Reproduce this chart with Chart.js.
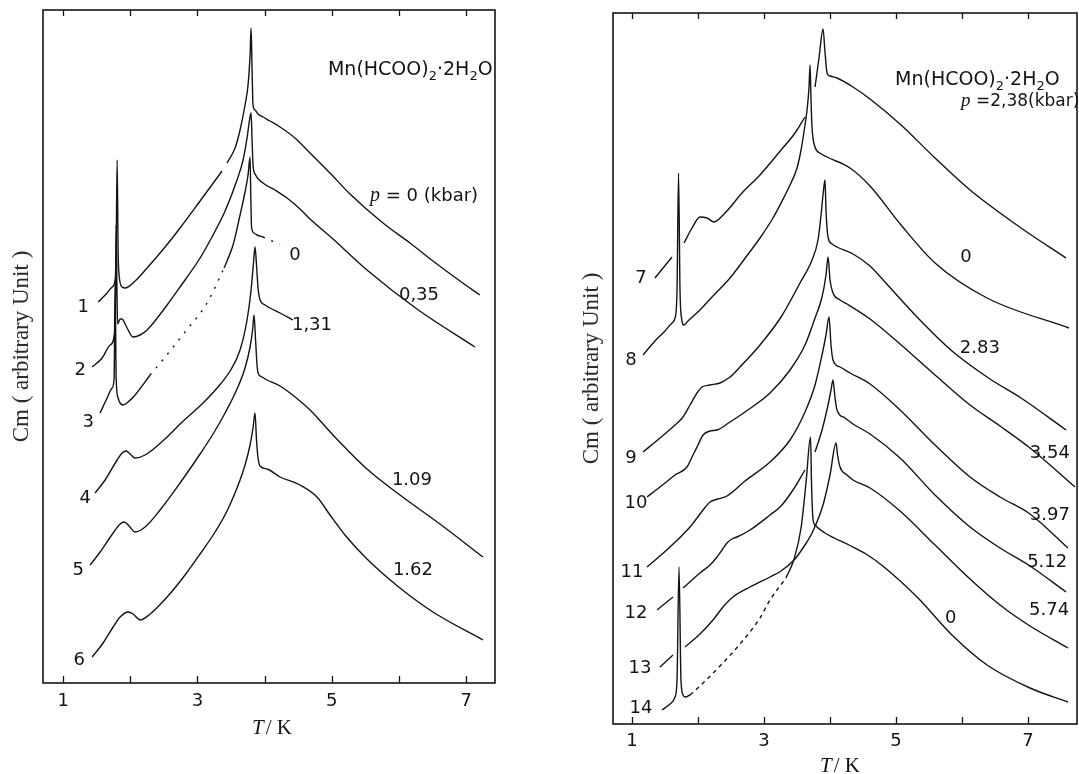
<!DOCTYPE html>
<html><head><meta charset="utf-8">
<script src="https://cdn.jsdelivr.net/npm/chart.js@4/dist/chart.umd.min.js"></script>
<style>
html,body{margin:0;padding:0;background:#fff;}
#wrap{position:relative;width:1079px;height:774px;overflow:hidden;background:#fff;}
#cL{position:absolute;left:0;top:0;}
#cR{position:absolute;left:540px;top:0;}
</style></head><body>
<div id="wrap"><canvas id="cL" width="540" height="774"></canvas><canvas id="cR" width="539" height="774"></canvas></div>
<script>
// ---------- tick values ----------
const tickLabels = [1, 3, 5, 7];
const tickMarks = [1, 2, 3, 4, 5, 6, 7];

// ---------- LEFT PANEL: Cm (arbitrary units) vs T (K) ----------
const L_curve1 = [[1.52,38.1],[1.64,38.9],[1.73,39.6],[1.774,40.3],[1.789,43.3],[1.804,52.3],[1.818,43.3],[1.833,40.8],[1.878,39.6],[1.923,39.5],[2.071,40.2],[2.25,41.5],[2.518,43.6],[2.741,45.5],[3.039,48.2],[3.366,51.2],
  [3.40,null],
  [3.44,52.0],[3.56,53.5],[3.634,55.3],[3.708,57.8],[3.753,59.8],[3.783,62.8],[3.798,65.5],[3.813,61.3],[3.827,57.8],[3.857,57.3],[3.902,56.9],[3.976,56.6],[4.08,56.2],[4.229,55.6],[4.452,54.5],[4.676,53.0],[4.973,51.0],[5.271,48.9],[5.762,46.0],[6.164,44.0],[6.506,42.2],[6.908,40.2],[7.205,38.8]];
const L_curve2 = [[1.432,31.6],[1.58,32.5],[1.699,33.8],[1.766,35.0],[1.781,39.3],[1.789,45.8],[1.801,39.3],[1.811,35.9],[1.85,36.4],[1.878,36.4],[1.93,35.8],[2.042,34.6],[2.146,34.8],[2.25,35.3],[2.548,37.8],[2.741,39.6],[3.039,42.5],[3.232,44.8],[3.411,47.2],[3.589,50.3],[3.679,52.3],[3.738,54.5],[3.775,56.3],[3.798,57.0],[3.813,54.3],[3.827,51.8],[3.857,50.9],[3.976,50.0],[4.155,49.3],[4.333,48.5],[4.527,47.4],[4.676,46.4],[5.018,44.4],[5.524,41.3],[6.268,37.4],[7.131,33.6]];
const L_curve3 = [[1.551,27.0],[1.64,28.3],[1.729,29.5],[1.759,30.5],[1.774,40.3],[1.789,30.5],[1.818,28.5],[1.848,28.0],[1.893,27.8],[1.967,28.1],[2.071,28.8],[2.295,30.8],
  [2.35,null],
  [3.396,41.5],[3.44,42.2],[3.53,43.8],[3.634,46.8],[3.708,49.1],[3.753,50.8],[3.783,52.6],[3.795,48.3],[3.805,45.6],[3.842,45.0],[3.887,44.8],[3.976,44.6]];
const L_curve3_dotted = [[2.295,30.8],[2.518,32.6],[2.815,35.1],[3.143,38.0],[3.396,41.5],[3.7,null],[3.976,44.6],[4.11,44.2],[4.229,43.9]];
const L_curve4 = [[1.476,19.0],[1.625,20.3],[1.804,22.3],[1.878,23.0],[1.938,23.2],[1.997,22.9],[2.071,22.5],[2.22,22.8],[2.548,24.6],[2.741,25.9],[3.083,28.0],[3.292,29.5],[3.485,31.2],[3.634,33.3],[3.738,36.3],[3.798,39.3],[3.835,42.1],[3.857,43.6],[3.879,41.8],[3.902,39.5],[3.932,38.3],[4.006,37.8],[4.08,37.5],[4.229,37.0],[4.423,36.3]];
const L_curve5 = [[1.402,11.8],[1.551,13.1],[1.744,15.0],[1.848,15.9],[1.908,16.1],[1.982,15.7],[2.071,15.1],[2.22,15.6],[2.443,17.3],[2.741,20.0],[3.039,22.9],[3.232,24.9],[3.411,27.0],[3.589,29.4],[3.708,31.5],[3.783,33.6],[3.82,35.3],[3.842,36.8],[3.865,34.3],[3.887,31.8],[3.902,31.0],[3.961,30.6],[4.036,30.3],[4.229,29.7],[4.378,29.0],[4.676,27.3],[5.018,24.8],[5.524,21.4],[6.015,18.8],[6.61,15.9],[7.25,12.6]];
const L_curve6 = [[1.432,2.6],[1.595,4.0],[1.744,5.6],[1.848,6.6],[1.967,7.1],[2.042,6.9],[2.146,6.3],[2.295,6.9],[2.548,8.6],[2.815,10.8],[3.039,12.9],[3.262,15.1],[3.44,17.2],[3.634,20.3],[3.708,21.8],[3.783,23.8],[3.827,25.5],[3.857,27.0],[3.879,24.3],[3.902,22.5],[3.932,21.7],[4.036,21.4],[4.229,20.6],[4.527,19.8],[4.78,18.6],[4.973,16.8],[5.196,14.8],[5.524,12.4],[6.015,9.5],[6.506,7.1],[7.25,4.3]];

// ---------- RIGHT PANEL ----------
const R_curve7 = [[1.348,44.6],[1.606,46.7],[1.70,null],[1.788,48.1],[1.909,49.6],[2.03,50.7],[2.136,50.6],[2.242,50.2],[2.409,51.1],[2.667,53.1],[2.939,54.9],[3.258,57.4],[3.47,59.1],[3.621,60.7],[3.70,null],[3.773,63.7],[3.833,66.6],[3.894,69.5],[3.924,67.2],[3.955,65.1],[4.0,64.8],[4.106,64.6],[4.348,63.7],[4.606,62.5],[5.076,59.9],[5.591,56.6],[6.121,53.4],[6.894,49.6],[7.576,46.6]];
const R_curve8 = [[1.167,36.9],[1.348,38.3],[1.5,39.3],[1.606,40.1],[1.652,40.6],[1.682,43.4],[1.705,55.1],[1.727,43.4],[1.75,40.6],[1.788,39.9],[1.848,40.3],[2.03,41.4],[2.212,42.7],[2.485,44.6],[2.727,46.7],[2.939,48.6],[3.136,50.6],[3.258,52.1],[3.394,53.9],[3.5,55.6],[3.561,57.4],[3.621,59.9],[3.652,61.4],[3.682,63.7],[3.697,65.9],[3.712,62.4],[3.727,59.7],[3.773,57.7],[3.848,57.1],[3.955,56.7],[4.303,55.6],[4.606,53.8],[5.076,49.9],[5.591,46.1],[6.379,42.6],[7.621,39.6]];
const R_curve9 = [[1.167,27.2],[1.424,28.6],[1.652,29.9],[1.773,30.7],[1.879,31.9],[1.985,33.1],[2.061,33.7],[2.182,33.9],[2.333,34.1],[2.485,34.7],[2.636,35.7],[2.939,37.9],[3.258,40.7],[3.545,44.1],[3.727,46.4],[3.818,48.4],[3.864,50.9],[3.894,52.9],[3.924,54.4],[3.939,51.4],[3.97,48.7],[4.03,48.0],[4.106,47.7],[4.348,47.0],[4.606,45.8],[4.818,44.3],[5.333,40.6],[5.848,37.3],[6.424,34.5],[6.894,32.6],[7.576,29.4]];
const R_curve10 = [[1.227,22.7],[1.424,23.7],[1.652,24.9],[1.833,25.7],[1.924,26.9],[2.0,27.9],[2.076,28.9],[2.182,29.3],[2.288,29.4],[2.485,30.2],[2.712,31.2],[3.091,33.1],[3.394,35.4],[3.621,37.9],[3.773,40.6],[3.879,42.7],[3.939,44.9],[3.97,46.7],[4.0,44.4],[4.045,43.1],[4.152,42.4],[4.258,42.0],[4.606,40.5],[5.061,38.0],[5.591,34.9],[6.121,31.9],[6.576,29.8],[7.03,27.6],[7.712,23.7]];
const R_curve11 = [[1.227,15.7],[1.576,17.7],[1.879,19.7],[1.985,20.6],[2.076,21.4],[2.182,22.2],[2.303,22.5],[2.439,22.8],[2.712,24.3],[3.091,26.2],[3.394,28.4],[3.621,31.2],[3.773,33.9],[3.879,36.9],[3.939,38.9],[3.985,40.7],[4.015,37.9],[4.045,36.4],[4.152,35.7],[4.303,35.1],[4.606,34.0],[5.061,31.4],[5.591,27.9],[6.121,24.7],[6.576,22.7],[7.03,21.0],[7.606,17.6]];
const R_curve12 = [[1.379,11.4],[1.621,12.7],[1.70,null],[1.773,13.6],[2.03,15.1],[2.182,15.9],[2.288,16.7],[2.364,17.4],[2.439,18.1],[2.515,18.5],[2.591,18.7],[2.788,19.4],[3.091,20.9],[3.258,21.8],[3.439,23.4],[3.621,25.4],[3.70,null],[3.773,27.2],[3.879,29.4],[3.97,31.9],[4.015,33.4],[4.045,34.4],[4.076,32.6],[4.106,31.4],[4.227,30.6],[4.348,30.0],[4.606,29.0],[5.061,26.6],[5.591,22.9],[6.121,19.7],[6.576,17.6],[7.03,15.8],[7.576,13.2]];
const R_curve13 = [[1.424,5.7],[1.621,6.9],[1.71,null],[1.803,7.7],[2.03,9.0],[2.227,10.4],[2.379,11.7],[2.53,12.7],[2.788,13.7],[3.091,14.7],[3.258,15.3],[3.455,16.4],[3.621,17.9],[3.727,19.1],[3.894,21.9],[4.0,24.9],[4.091,28.1],[4.114,26.9],[4.152,25.7],[4.258,24.9],[4.348,24.4],[4.606,23.6],[5.061,21.3],[5.591,17.9],[6.121,14.5],[6.576,11.9],[7.03,9.8],[7.606,7.6]];
const R_curve14 = [[1.455,1.4],[1.576,2.0],[1.652,2.7],[1.682,4.4],[1.712,15.7],[1.742,4.4],[1.773,2.9],[1.803,2.7],[1.879,2.9],[2.6,null],[3.333,14.6],[3.455,16.5],[3.561,19.6],[3.636,24.1],[3.705,28.7],[3.72,24.0],[3.742,20.5],[3.773,19.9],[3.924,19.1],[4.288,17.9],[4.545,17.0],[4.818,15.7],[5.333,12.6],[5.848,8.9],[6.379,5.9],[7.03,3.6],[7.606,2.2]];
const R_curve14_dashed = [[1.879,2.9],[2.03,3.8],[2.333,5.8],[2.636,8.0],[2.939,10.6],[3.091,12.4],[3.333,14.6]];

// ---------- annotation texts (anchored in data units) ----------
const leftLabels = [
  {text:'1', t:1.298, v:37.6},{text:'2', t:1.253, v:31.3},{text:'3', t:1.372, v:26.1},
  {text:'4', t:1.327, v:18.5},{text:'5', t:1.223, v:11.3},{text:'6', t:1.238, v:2.3},
  {text:'0', t:4.452, v:42.8},{text:'1,31', t:4.705, v:35.8},{text:'0,35', t:6.298, v:38.8},
  {text:'1.09', t:6.193, v:20.3},{text:'1.62', t:6.208, v:11.3}];
const rightLabels = [
  {text:'7', t:1.136, v:44.6},{text:'8', t:0.985, v:36.4},{text:'9', t:0.985, v:26.6},
  {text:'10', t:1.06, v:22.1},{text:'11', t:1.0, v:15.2},{text:'12', t:1.06, v:11.1},
  {text:'13', t:1.121, v:5.6},{text:'14', t:1.136, v:1.6},
  {text:'0', t:6.06, v:46.7},{text:'2.83', t:6.27, v:37.6},{text:'3.54', t:7.33, v:27.1},
  {text:'3.97', t:7.33, v:20.9},{text:'5.12', t:7.29, v:16.2},{text:'5.74', t:7.32, v:11.4},
  {text:'0', t:5.83, v:10.6}];
const formulaParts = [['Mn(HCOO)','n'],['2','sub'],['·2H','n'],['2','sub'],['O','n']];
const leftRich = [
  {t:4.943, v:60.8, size:19, parts:formulaParts},
  {t:5.57, v:48.2, size:18, parts:[['p','it'],[' = 0 (kbar)','n']]}];
const rightRich = [
  {t:4.985, v:63.9, size:19, parts:formulaParts},
  {t:5.985, v:61.8, size:17, parts:[['p','it'],[' =2,38(kbar)','n']]}];
const yTitle = 'Cm ( arbitrary Unit )';
const xTitleParts = [['T','it'],['/ K','n']];

// ---------- styling / drawing ----------
const INK = '#141414';
const SANS = '"DejaVu Sans", "Liberation Sans", sans-serif';
const SERIF = '"Liberation Serif", "DejaVu Serif", serif';

function fontFor(kind, size){
  if (kind === 'sub') return Math.round(size*0.68) + 'px ' + SANS;
  if (kind === 'it') return 'italic ' + (size+2) + 'px ' + SERIF;
  return size + 'px ' + SANS;
}

const framePlugin = {
  id: 'frame',
  afterDraw(chart, args, o){
    const {ctx, chartArea:a} = chart;
    const xs = chart.scales.x, ys = chart.scales.y;
    ctx.save();
    ctx.strokeStyle = INK; ctx.lineWidth = 1.6;
    ctx.strokeRect(a.left, a.top, a.right - a.left, a.bottom - a.top);
    ctx.lineWidth = 1.3;
    ctx.beginPath();
    for (const k of tickMarks){
      const px = Math.round(xs.getPixelForValue(k)) + 0.5;
      ctx.moveTo(px, a.bottom); ctx.lineTo(px, a.bottom - 7);
      ctx.moveTo(px, a.top); ctx.lineTo(px, a.top + 6);
    }
    ctx.stroke();
    ctx.fillStyle = INK;
    ctx.textAlign = 'center'; ctx.textBaseline = 'middle';
    ctx.font = '18px ' + SANS;
    for (const L of o.labels) ctx.fillText(L.text, xs.getPixelForValue(L.t), ys.getPixelForValue(L.v));
    ctx.textAlign = 'left'; ctx.textBaseline = 'alphabetic';
    for (const R of o.rich){
      let cx = xs.getPixelForValue(R.t); const cy = ys.getPixelForValue(R.v);
      for (const [txt, kind] of R.parts){
        ctx.font = fontFor(kind, R.size);
        ctx.fillText(txt, cx, cy + (kind === 'sub' ? R.size*0.28 : 0));
        cx += ctx.measureText(txt).width;
      }
    }
    // x axis title: italic T, upright "/ K"
    let w = 0;
    const parts = xTitleParts.map(([t,k]) => [t, k === 'it' ? 'italic 21px ' + SERIF : '21px ' + SERIF]);
    for (const [t,f] of parts){ ctx.font = f; w += ctx.measureText(t).width + 2; }
    let tx = (a.left + a.right)/2 + o.xTitleDx - w/2; const ty = a.bottom + o.xTitleDy;
    for (const [t,f] of parts){ ctx.font = f; ctx.fillText(t, tx, ty); tx += ctx.measureText(t).width + 2; }
    ctx.restore();
  }
};

function lineSet(data, dash){
  return {data, borderColor: INK, borderWidth: 1.4, borderDash: dash || [], borderCapStyle:'butt',
          pointRadius: 0, pointHoverRadius: 0, fill: false, spanGaps: false,
          cubicInterpolationMode: 'monotone'};
}

function makeChart(canvas, c){
  return new Chart(canvas, {
    type: 'line',
    data: {datasets: c.datasets},
    options: {
      responsive: false, animation: false, devicePixelRatio: 1,
      layout: {padding: {left: 0, right: c.padRight, top: c.padTop, bottom: 0}},
      plugins: {legend: {display: false}, tooltip: {enabled: false}, frame: c.frame},
      scales: {
        x: {type: 'linear', min: c.xMin, max: c.xMax,
            grid: {display: false, drawTicks: false}, border: {display: false},
            ticks: {stepSize: 1, includeBounds: false, autoSkip: false, maxRotation: 0, padding: c.tickPad,
                    color: INK, font: {family: SANS, size: 18},
                    callback: (v) => tickLabels.includes(v) ? String(v) : ''},
            afterFit: (s) => { s.height = c.xH; }},
        y: {type: 'linear', min: 0, max: c.yMax,
            grid: {display: false, drawTicks: false}, border: {display: false},
            ticks: {display: false},
            title: {display: true, text: yTitle, color: '#2a2a2a', font: {family: SERIF, size: 23},
                    padding: {top: c.yTitlePad, bottom: 0}},
            afterFit: (s) => { s.width = c.yW; }}
      }
    },
    plugins: [framePlugin]
  });
}

makeChart(document.getElementById('cL'), {
  datasets: [lineSet(L_curve1), lineSet(L_curve2), lineSet(L_curve3), lineSet(L_curve3_dotted, [2, 7]),
             lineSet(L_curve4), lineSet(L_curve5), lineSet(L_curve6)],
  xMin: 0.70, xMax: 7.43, yMax: 67.3, padTop: 10, padRight: 45, xH: 91, yW: 43,
  tickPad: 8, yTitlePad: 8,
  frame: {labels: leftLabels, rich: leftRich, xTitleDy: 51, xTitleDx: 4}
});

makeChart(document.getElementById('cR'), {
  datasets: [lineSet(R_curve7), lineSet(R_curve8), lineSet(R_curve9), lineSet(R_curve10), lineSet(R_curve11),
             lineSet(R_curve12), lineSet(R_curve13), lineSet(R_curve14), lineSet(R_curve14_dashed, [4, 4])],
  xMin: 0.712, xMax: 7.742, yMax: 71.1, padTop: 13, padRight: 2, xH: 50, yW: 73,
  tickPad: 7, yTitlePad: 38,
  frame: {labels: rightLabels, rich: rightRich, xTitleDy: 48, xTitleDx: -4}
});
</script>
</body></html>
